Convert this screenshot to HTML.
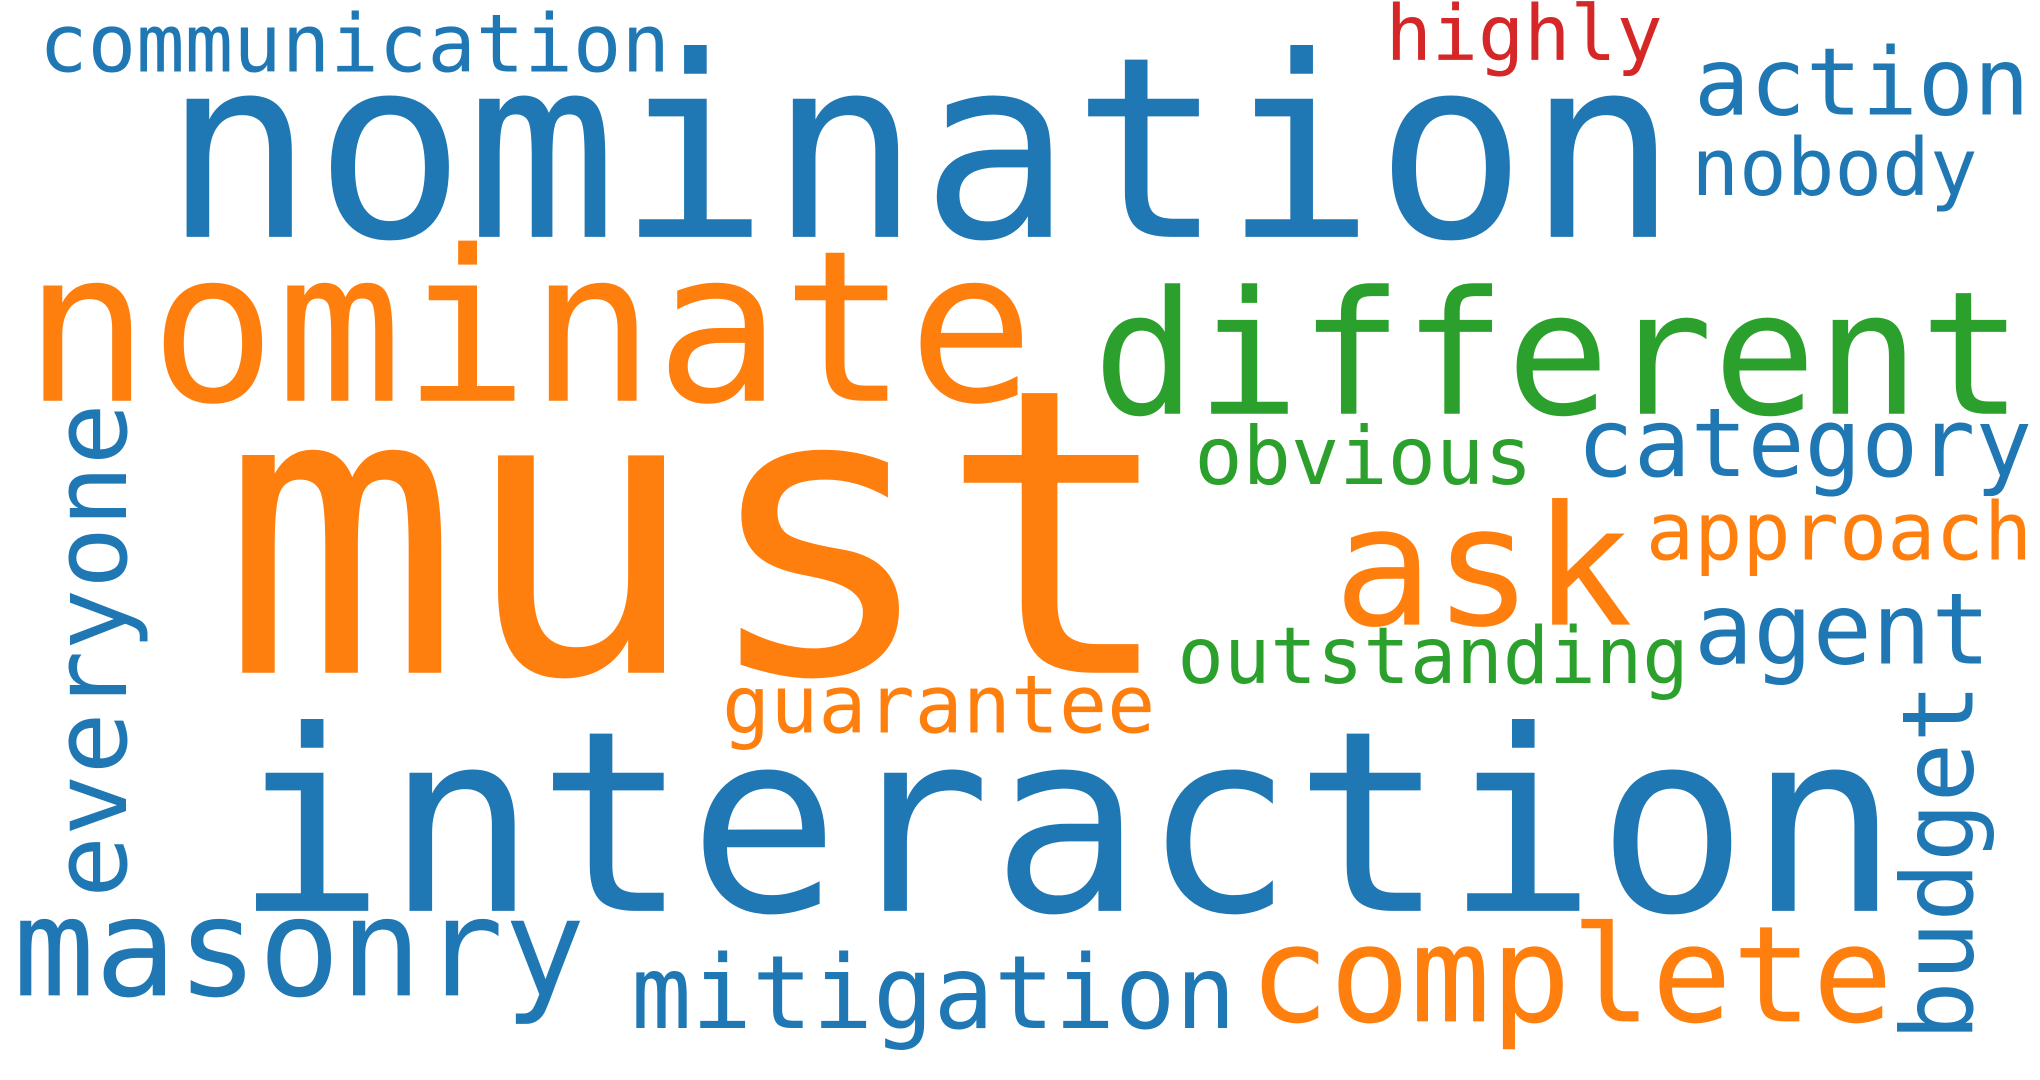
<!DOCTYPE html>
<html><head><meta charset="utf-8"><style>
html,body{margin:0;padding:0;background:#fff;width:2040px;height:1080px;overflow:hidden}
svg{display:block}
text{font-family:"DejaVu Sans Mono","Liberation Mono",monospace}
</style></head><body>
<svg width="2040" height="1080" viewBox="0 0 1568 830" preserveAspectRatio="none">
<rect width="1568" height="830" fill="#fff"/>
<text x="30" y="55" font-size="62" fill="#1f77b4" textLength="485" lengthAdjust="spacingAndGlyphs">communication</text>
<text x="1065" y="46" font-size="59" fill="#d62728" textLength="213" lengthAdjust="spacingAndGlyphs">highly</text>
<text x="1302" y="88" font-size="72" fill="#1f77b4" textLength="258" lengthAdjust="spacingAndGlyphs">action</text>
<text x="1300" y="150" font-size="61" fill="#1f77b4" textLength="220" lengthAdjust="spacingAndGlyphs">nobody</text>
<text x="125" y="182" font-size="194" fill="#1f77b4" textLength="1165" lengthAdjust="spacingAndGlyphs">nomination</text>
<text x="18" y="308" font-size="162" fill="#ff7f0e" textLength="777" lengthAdjust="spacingAndGlyphs">nominate</text>
<text x="840" y="318" font-size="132" fill="#2ca02c" textLength="715" lengthAdjust="spacingAndGlyphs">different</text>
<text x="918" y="372" font-size="62" fill="#2ca02c" textLength="260" lengthAdjust="spacingAndGlyphs">obvious</text>
<text x="1212" y="366" font-size="73" fill="#1f77b4" textLength="350" lengthAdjust="spacingAndGlyphs">category</text>
<text x="1265" y="430" font-size="62" fill="#ff7f0e" textLength="297" lengthAdjust="spacingAndGlyphs">approach</text>
<text x="170" y="517" font-size="306" fill="#ff7f0e" textLength="735" lengthAdjust="spacingAndGlyphs">must</text>
<text x="1025" y="480" font-size="128" fill="#ff7f0e" textLength="230" lengthAdjust="spacingAndGlyphs">ask</text>
<text transform="translate(97,690) rotate(-90)" x="0" y="0" font-size="79" fill="#1f77b4" textLength="380" lengthAdjust="spacingAndGlyphs">everyone</text>
<text x="905" y="525" font-size="60" fill="#2ca02c" textLength="393" lengthAdjust="spacingAndGlyphs">outstanding</text>
<text x="1302" y="510" font-size="76" fill="#1f77b4" textLength="228" lengthAdjust="spacingAndGlyphs">agent</text>
<text x="555" y="563" font-size="62" fill="#ff7f0e" textLength="333" lengthAdjust="spacingAndGlyphs">guarantee</text>
<text x="180" y="700" font-size="194" fill="#1f77b4" textLength="1280" lengthAdjust="spacingAndGlyphs">interaction</text>
<text transform="translate(1516,800) rotate(-90)" x="0" y="0" font-size="76" fill="#1f77b4" textLength="275" lengthAdjust="spacingAndGlyphs">budget</text>
<text x="10" y="765" font-size="105" fill="#1f77b4" textLength="440" lengthAdjust="spacingAndGlyphs">masonry</text>
<text x="485" y="790" font-size="78" fill="#1f77b4" textLength="465" lengthAdjust="spacingAndGlyphs">mitigation</text>
<text x="960" y="785" font-size="103" fill="#ff7f0e" textLength="495" lengthAdjust="spacingAndGlyphs">complete</text>
</svg>
</body></html>
